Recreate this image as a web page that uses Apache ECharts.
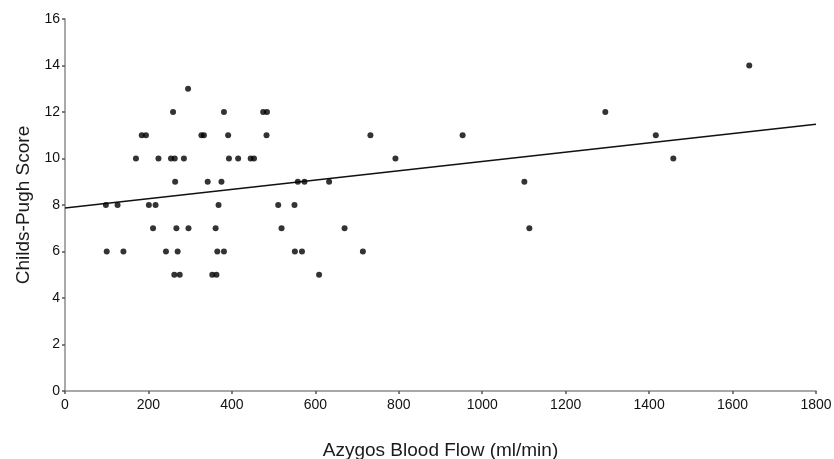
<!DOCTYPE html>
<html>
<head>
<meta charset="utf-8">
<script src="https://cdn.jsdelivr.net/npm/echarts@6/dist/echarts.min.js"></script>
<style>
html,body{margin:0;padding:0;background:#fff;}
#chart{width:834px;height:459px;}
</style>
</head>
<body>
<div id="chart"></div>
<script>
// Azygos blood flow (ml/min) and Childs-Pugh score, one entry per patient
var azygosFlow = [
  1640,
  295,
  259, 381, 475, 484, 1295,
  184, 194, 327, 333, 391, 483, 732, 953, 1416,
  170, 224, 254, 263, 285, 393, 415, 445, 453, 792, 1458,
  264, 342, 375, 558, 574, 633, 1101,
  98, 126, 201, 217, 368, 511, 550,
  211, 267, 296, 361, 519, 670, 1113,
  100, 140, 242, 270, 365, 381, 551, 568, 714,
  262, 275, 353, 363, 609
];
var childsPugh = [
  14,
  13,
  12, 12, 12, 12, 12,
  11, 11, 11, 11, 11, 11, 11, 11, 11,
  10, 10, 10, 10, 10, 10, 10, 10, 10, 10, 10,
  9, 9, 9, 9, 9, 9, 9,
  8, 8, 8, 8, 8, 8, 8,
  7, 7, 7, 7, 7, 7, 7,
  6, 6, 6, 6, 6, 6, 6, 6, 6,
  5, 5, 5, 5, 5
];
// Regression line endpoints
var trendX = [0, 1800];
var trendY = [7.87, 11.47];

var xTicks = {min: 0, max: 1800, interval: 200};
var yTicks = {min: 0, max: 16, interval: 2};

var scatterData = azygosFlow.map(function (x, i) { return [x, childsPugh[i]]; });
var trendData = trendX.map(function (x, i) { return [x, trendY[i]]; });

var font = "'Liberation Sans', Arial, Helvetica, sans-serif";
var axisGray = '#8c8c8c';
var plain = function (v) { return String(v); };

var chart = echarts.init(document.getElementById('chart'), null, {renderer: 'canvas'});
chart.setOption({
  animation: false,
  backgroundColor: '#ffffff',
  grid: {left: 65, right: 18, top: 19, bottom: 68, containLabel: false, outerBoundsMode: 'none'},
  xAxis: {
    type: 'value',
    min: xTicks.min, max: xTicks.max, interval: xTicks.interval,
    name: 'Azygos Blood Flow (ml/min)',
    nameLocation: 'middle',
    nameGap: 50,
    nameTextStyle: {fontFamily: font, fontSize: 19, color: '#1a1a1a'},
    axisLine: {show: true, lineStyle: {color: axisGray, width: 1.5}},
    axisTick: {show: true, length: 3, lineStyle: {color: '#555', width: 1.5}},
    axisLabel: {fontFamily: font, fontSize: 14, color: '#111', margin: 7, formatter: plain},
    splitLine: {show: false}
  },
  yAxis: {
    type: 'value',
    min: yTicks.min, max: yTicks.max, interval: yTicks.interval,
    name: 'Childs-Pugh Score',
    nameLocation: 'middle',
    nameGap: 32,
    nameRotate: 90,
    nameTextStyle: {fontFamily: font, fontSize: 19, color: '#1a1a1a'},
    axisLine: {show: true, lineStyle: {color: axisGray, width: 1.5}},
    axisTick: {show: true, length: 3, lineStyle: {color: '#555', width: 1.5}},
    axisLabel: {fontFamily: font, fontSize: 14, color: '#111', margin: 5, formatter: plain},
    splitLine: {show: false}
  },
  series: [
    {
      type: 'line',
      data: trendData,
      showSymbol: false,
      symbol: 'none',
      lineStyle: {color: '#111', width: 1.6},
      z: 2
    },
    {
      type: 'scatter',
      data: scatterData,
      symbol: 'circle',
      symbolSize: 6,
      itemStyle: {color: '#000'},
      z: 3
    }
  ]
});
</script>
</body>
</html>
